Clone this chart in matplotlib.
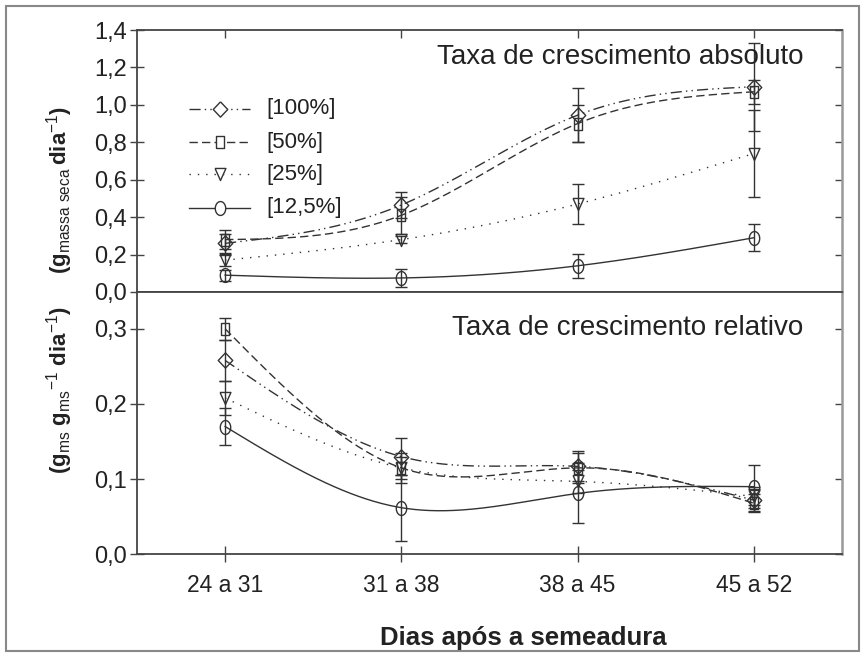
import numpy as np
import matplotlib
matplotlib.use('Agg')
import matplotlib.pyplot as plt
from matplotlib.patches import Rectangle
from matplotlib.ticker import FuncFormatter

plt.rcParams['font.family'] = ['Liberation Sans', 'DejaVu Sans']
plt.rcParams['mathtext.fontset'] = 'custom'
plt.rcParams['mathtext.rm'] = 'Liberation Sans'
plt.rcParams['mathtext.bf'] = 'Liberation Sans:bold'

periods = ['24 a 31', '31 a 38', '38 a 45', '45 a 52']
doses = ['[100%]', '[50%]', '[25%]', '[12,5%]']

# taxa de crescimento absoluto (g massa seca / dia)
tca_100 = [0.26, 0.465, 0.945, 1.097]
tca_100_err = [0.05, 0.07, 0.145, 0.235]
tca_50 = [0.28, 0.41, 0.90, 1.07]
tca_50_err = [0.05, 0.10, 0.10, 0.065]
tca_25 = [0.17, 0.28, 0.47, 0.74]
tca_25_err = [0.03, 0.02, 0.105, 0.235]
tca_125 = [0.09, 0.075, 0.14, 0.29]
tca_125_err = [0.03, 0.047, 0.063, 0.072]

# taxa de crescimento relativo (g/g/dia)
tcr_100 = [0.258, 0.13, 0.117, 0.072]
tcr_100_err = [0.027, 0.025, 0.02, 0.015]
tcr_50 = [0.30, 0.115, 0.115, 0.068]
tcr_50_err = [0.015, 0.02, 0.02, 0.012]
tcr_25 = [0.208, 0.115, 0.097, 0.077]
tcr_25_err = [0.023, 0.015, 0.015, 0.012]
tcr_125 = [0.17, 0.062, 0.081, 0.09]
tcr_125_err = [0.025, 0.044, 0.04, 0.029]

INK = '#333333'

# marker shapes (open, slightly taller than wide like the original)
t = np.linspace(0, 2 * np.pi, 41)
m_ellipse = np.column_stack([0.75 * np.cos(t), np.sin(t)])
m_diamond = [(0, 1), (0.95, 0), (0, -1), (-0.95, 0), (0, 1)]
m_rect = [(-0.75, -1), (0.75, -1), (0.75, 1), (-0.75, 1), (-0.75, -1)]
m_tri = [(-0.9, 1), (0.9, 1), (0, -1), (-0.9, 1)]

styles = {
    '[100%]': dict(dashes=(8, 3, 1, 3, 1, 3), marker=m_diamond, ms=11),
    '[50%]': dict(dashes=(6, 3), marker=m_rect, ms=8.5),
    '[25%]': dict(dashes=(1, 5), marker=m_tri, ms=8.7),
    '[12,5%]': dict(dashes=(None, None), marker=m_ellipse, ms=10),
}


def natural_spline(xk, yk, n=200):
    xk = np.asarray(xk, float)
    yk = np.asarray(yk, float)
    k = len(xk)
    h = np.diff(xk)
    A = np.zeros((k, k))
    b = np.zeros(k)
    A[0, 0] = A[-1, -1] = 1
    for i in range(1, k - 1):
        A[i, i - 1] = h[i - 1]
        A[i, i] = 2 * (h[i - 1] + h[i])
        A[i, i + 1] = h[i]
        b[i] = 6 * ((yk[i + 1] - yk[i]) / h[i] - (yk[i] - yk[i - 1]) / h[i - 1])
    M = np.linalg.solve(A, b)
    xs = np.linspace(xk[0], xk[-1], n)
    idx = np.clip(np.searchsorted(xk, xs) - 1, 0, k - 2)
    x0, x1 = xk[idx], xk[idx + 1]
    hh = x1 - x0
    a = (x1 - xs) / hh
    c = (xs - x0) / hh
    ys = (a * yk[idx] + c * yk[idx + 1]
          + ((a ** 3 - a) * M[idx] + (c ** 3 - c) * M[idx + 1]) * hh ** 2 / 6)
    return xs, ys


def style_line(ln, name):
    d = styles[name]['dashes']
    if d[0] is not None:
        ln.set_dashes(d)


def draw_panel(ax, series, errors):
    x = np.arange(1, len(periods) + 1)
    for name, y, err in zip(doses, series, errors):
        st = styles[name]
        ax.errorbar(x, y, yerr=err, fmt='none', ecolor=INK, elinewidth=1.0,
                    capsize=4.3, capthick=1.0, zorder=2)
        xs, ys = natural_spline(x, y)
        ln, = ax.plot(xs, ys, color=INK, lw=1.0, zorder=3)
        style_line(ln, name)
        ax.plot(x, y, ls='none', marker=st['marker'], ms=st['ms'], mfc='none',
                mec=INK, mew=1.0, zorder=4)
    ax.set_xlim(0.5, 4.5)
    ax.set_xticks(x)
    for side in ['left', 'top', 'bottom']:
        ax.spines[side].set_color('#444444')
        ax.spines[side].set_linewidth(1.3)
    ax.spines['right'].set_color('#999999')
    ax.spines['right'].set_linewidth(1.8)
    ax.tick_params(axis='y', direction='inout', length=10, width=1.0,
                   colors='#444444', labelcolor='#222222', labelsize=17, pad=2.5)
    ax.yaxis.set_major_formatter(FuncFormatter(lambda v, p: f'{v:.1f}'.replace('.', ',')))
    sec = ax.secondary_yaxis('right')
    sec.set_yticks(ax.get_yticks())
    sec.tick_params(direction='in', length=5, width=1.0, colors='#444444', labelright=False)
    sec.spines['right'].set_visible(False)


fig = plt.figure(figsize=(8.66, 6.56), dpi=100)
W, H = 866, 656
ax1 = fig.add_axes([137 / W, 1 - 292 / H, 705 / W, 262 / H])
ax2 = fig.add_axes([137 / W, 1 - 554.3 / H, 705 / W, 262.3 / H])

ax1.set_ylim(0, 1.4)
ax1.set_yticks(np.arange(0, 1.41, 0.2))
draw_panel(ax1, [tca_100, tca_50, tca_25, tca_125],
           [tca_100_err, tca_50_err, tca_25_err, tca_125_err])
ax1.tick_params(axis='x', direction='out', length=6, width=1.0, colors='#444444',
                labelbottom=False)
top = ax1.secondary_xaxis('top')
top.set_xticks([1, 2, 3, 4])
top.tick_params(direction='in', length=6, width=1.0, colors='#444444', labeltop=False)
top.spines['top'].set_visible(False)

ax2.set_ylim(0, 0.349)
ax2.set_yticks([0, 0.1, 0.2, 0.3])
draw_panel(ax2, [tcr_100, tcr_50, tcr_25, tcr_125],
           [tcr_100_err, tcr_50_err, tcr_25_err, tcr_125_err])
ax2.tick_params(axis='x', direction='inout', length=11, width=1.0, colors='#444444',
                labelcolor='#222222', labelsize=16.5, pad=9)
ax2.set_xticklabels(periods)

ax1.text(0.945, 0.870, 'Taxa de crescimento absoluto', transform=ax1.transAxes,
         ha='right', va='baseline', fontsize=20, color='#222222')
ax2.text(0.945, 0.836, 'Taxa de crescimento relativo', transform=ax2.transAxes,
         ha='right', va='baseline', fontsize=20, color='#222222')

# legend key, laid out by hand in axes fraction
leg_rows = [0.700, 0.572, 0.450, 0.322]
for name, ry in zip(doses, leg_rows):
    st = styles[name]
    ln, = ax1.plot([0.074, 0.160], [ry, ry], color=INK, lw=1.0, transform=ax1.transAxes)
    style_line(ln, name)
    ax1.plot([0.1175], [ry], ls='none', marker=st['marker'], ms=st['ms'], mfc='white',
             mec=INK, mew=1.0, transform=ax1.transAxes)
    ax1.text(0.184, ry, name, transform=ax1.transAxes, ha='left', va='center',
             fontsize=16, color='#222222')

fig.text(60 / W, 1 - 190 / H, r'(g$_{\rm massa\ seca}\,$dia$^{\rm {-}1}$)', rotation=90,
         ha='center', va='center', fontsize=16, fontweight='bold', color='#222222')
fig.text(60 / W, 1 - 390 / H, r'(g$_{\rm ms}$ g$_{\rm ms}{}^{\rm {-}1}$ dia$^{\rm {-}1}$)',
         rotation=90, ha='center', va='center', fontsize=16, fontweight='bold',
         color='#222222')
fig.text(523 / W, 1 - 645 / H, 'Dias após a semeadura', ha='center', va='baseline',
         fontsize=18.5, fontweight='bold', color='#222222')

fig.patches.append(Rectangle((6 / W, 5 / H), 853 / W, 645 / H, transform=fig.transFigure,
                             fill=False, edgecolor='#888888', lw=1.5))

fig.savefig('out.png', dpi=100)
